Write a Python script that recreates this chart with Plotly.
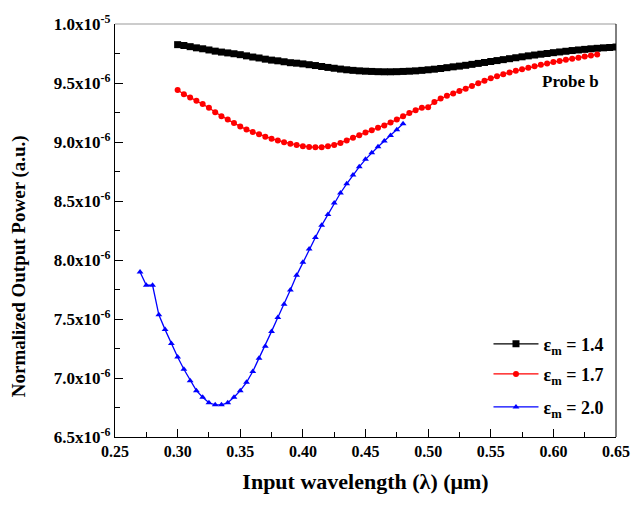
import plotly.graph_objects as go

# wavelengths (µm)
x_14 = [0.300, 0.305, 0.310, 0.315, 0.320, 0.325, 0.330, 0.335, 0.340, 0.345,
        0.350, 0.355, 0.360, 0.365, 0.370, 0.375, 0.380, 0.385, 0.390, 0.395,
        0.400, 0.405, 0.410, 0.415, 0.420, 0.425, 0.430, 0.435, 0.440, 0.445,
        0.450, 0.455, 0.460, 0.465, 0.470, 0.475, 0.480, 0.485, 0.490, 0.495,
        0.500, 0.505, 0.510, 0.515, 0.520, 0.525, 0.530, 0.535, 0.540, 0.545,
        0.550, 0.555, 0.560, 0.565, 0.570, 0.575, 0.580, 0.585, 0.590, 0.595,
        0.600, 0.605, 0.610, 0.615, 0.620, 0.625, 0.630, 0.635, 0.640, 0.645,
        0.650]
# output power, in units of 1e-6
p_14 = [9.825, 9.818, 9.808, 9.798, 9.790, 9.780, 9.770, 9.762, 9.755, 9.748,
        9.740, 9.730, 9.720, 9.712, 9.702, 9.694, 9.688, 9.680, 9.672, 9.668,
        9.662, 9.655, 9.648, 9.640, 9.632, 9.625, 9.618, 9.612, 9.607, 9.603,
        9.600, 9.598, 9.596, 9.595, 9.595, 9.596, 9.598, 9.600, 9.603, 9.607,
        9.612, 9.617, 9.623, 9.630, 9.637, 9.643, 9.650, 9.658, 9.666, 9.674,
        9.682, 9.690, 9.698, 9.706, 9.714, 9.722, 9.730, 9.737, 9.744, 9.750,
        9.757, 9.763, 9.769, 9.775, 9.780, 9.785, 9.790, 9.794, 9.798, 9.801,
        9.805]

x_17 = [0.300, 0.305, 0.310, 0.315, 0.320, 0.325, 0.330, 0.335, 0.340, 0.345,
        0.350, 0.355, 0.360, 0.365, 0.370, 0.375, 0.380, 0.385, 0.390, 0.395,
        0.400, 0.405, 0.410, 0.415, 0.420, 0.425, 0.430, 0.435, 0.440, 0.445,
        0.450, 0.455, 0.460, 0.465, 0.470, 0.475, 0.480, 0.485, 0.490, 0.495,
        0.500, 0.505, 0.510, 0.515, 0.520, 0.525, 0.530, 0.535, 0.540, 0.545,
        0.550, 0.555, 0.560, 0.565, 0.570, 0.575, 0.580, 0.585, 0.590, 0.595,
        0.600, 0.605, 0.610, 0.615, 0.620, 0.625, 0.630, 0.635]
p_17 = [9.440, 9.405, 9.378, 9.350, 9.322, 9.290, 9.252, 9.218, 9.190, 9.160,
        9.132, 9.105, 9.085, 9.065, 9.045, 9.028, 9.012, 8.998, 8.986, 8.975,
        8.965, 8.958, 8.955, 8.956, 8.963, 8.975, 8.992, 9.012, 9.035, 9.058,
        9.080, 9.100, 9.120, 9.140, 9.165, 9.190, 9.218, 9.245, 9.270, 9.290,
        9.295, 9.340, 9.368, 9.392, 9.412, 9.432, 9.452, 9.475, 9.498, 9.520,
        9.540, 9.558, 9.575, 9.590, 9.603, 9.616, 9.629, 9.642, 9.655, 9.666,
        9.677, 9.687, 9.697, 9.706, 9.715, 9.724, 9.733, 9.742]

x_20 = [0.270, 0.275, 0.280, 0.285, 0.290, 0.295, 0.300, 0.305, 0.310, 0.315,
        0.320, 0.325, 0.330, 0.335, 0.340, 0.345, 0.350, 0.355, 0.360, 0.365,
        0.370, 0.375, 0.380, 0.385, 0.390, 0.395, 0.400, 0.405, 0.410, 0.415,
        0.420, 0.425, 0.430, 0.435, 0.440, 0.445, 0.450, 0.455, 0.460, 0.465,
        0.470, 0.475, 0.480]
p_20 = [7.898, 7.786, 7.786, 7.535, 7.410, 7.292, 7.178, 7.074, 6.977, 6.893,
        6.837, 6.790, 6.773, 6.773, 6.790, 6.837, 6.893, 6.963, 7.055, 7.167,
        7.270, 7.395, 7.513, 7.624, 7.745, 7.870, 7.980, 8.093, 8.190, 8.294,
        8.386, 8.484, 8.568, 8.646, 8.721, 8.790, 8.853, 8.909, 8.959, 9.009,
        9.056, 9.104, 9.154]

series_names = ["ε<sub>m</sub> = 1.4", "ε<sub>m</sub> = 1.7", "ε<sub>m</sub> = 2.0"]
x_ticks = [0.25, 0.30, 0.35, 0.40, 0.45, 0.50, 0.55, 0.60, 0.65]
y_tick_vals = [6.5e-6, 7.0e-6, 7.5e-6, 8.0e-6, 8.5e-6, 9.0e-6, 9.5e-6, 1.0e-5]
y_tick_text = ["6.5x10<sup>-6</sup>", "7.0x10<sup>-6</sup>", "7.5x10<sup>-6</sup>",
               "8.0x10<sup>-6</sup>", "8.5x10<sup>-6</sup>", "9.0x10<sup>-6</sup>",
               "9.5x10<sup>-6</sup>", "1.0x10<sup>-5</sup>"]

SCALE = 1e-6
FONT = '"Liberation Serif", "Times New Roman", Times, serif'


def bfont(size):
    return dict(family=FONT, size=size, color="black", weight="bold")


fig = go.Figure()
fig.add_trace(go.Scatter(
    x=x_14, y=[v * SCALE for v in p_14], name=series_names[0], mode="lines+markers",
    line=dict(color="black", width=1.3), legend="legend",
    marker=dict(symbol="square", size=7, color="black")))
fig.add_trace(go.Scatter(
    x=x_17, y=[v * SCALE for v in p_17], name=series_names[1], mode="lines+markers",
    line=dict(color="red", width=1.3), legend="legend2",
    marker=dict(symbol="circle", size=6, color="red")))
fig.add_trace(go.Scatter(
    x=x_20, y=[v * SCALE for v in p_20], name=series_names[2], mode="lines+markers",
    line=dict(color="blue", width=1.3), legend="legend3",
    marker=dict(symbol="triangle-up", size=6, color="blue")))


def leg(ypos):
    return dict(x=0.985, y=ypos, xanchor="right", yanchor="middle",
                font=bfont(18), bgcolor="rgba(0,0,0,0)", itemwidth=45,
                borderwidth=0)


fig.update_layout(
    width=642, height=506,
    margin=dict(l=115, r=19, t=19, b=69),
    paper_bgcolor="white", plot_bgcolor="white",
    font=dict(family=FONT, color="black", weight="bold"),
    showlegend=True,
    legend=leg(0.225),
    legend2=leg(0.152),
    legend3=leg(0.072),
    annotations=[
        dict(text="Probe b", x=0.909, y=0.86, xref="paper", yref="paper",
             xanchor="center", yanchor="middle", showarrow=False, font=bfont(17)),
        dict(text="Normalized Output Power (a.u.)", x=-0.19, y=0.413,
             xref="paper", yref="paper", xanchor="center", yanchor="middle",
             textangle=-90, showarrow=False, font=bfont(19)),
    ],
    shapes=[
        dict(type="line", xref="paper", yref="paper", x0=0, x1=1, y0=1, y1=1,
             line=dict(color="#999999", width=1)),
        dict(type="line", xref="paper", yref="paper", x0=1, x1=1, y0=0, y1=1,
             line=dict(color="black", width=1)),
    ],
)

fig.update_xaxes(
    range=[0.25, 0.65], tickvals=x_ticks, tickformat=".2f",
    showgrid=False, zeroline=False,
    showline=True, linecolor="black", linewidth=1.2,
    ticks="inside", ticklen=8, tickcolor="black",
    minor=dict(ticks="inside", ticklen=5, dtick=0.025, tick0=0.25, tickcolor="black"),
    tickfont=bfont(16),
    title=dict(text="Input wavelength (λ) (μm)", standoff=14, font=bfont(22)),
)
fig.update_yaxes(
    range=[6.5e-6, 1.0e-5], tickvals=y_tick_vals, ticktext=y_tick_text,
    showgrid=False, zeroline=False,
    showline=True, linecolor="black", linewidth=1.2,
    ticks="inside", ticklen=8, tickcolor="black",
    minor=dict(ticks="inside", ticklen=5, dtick=0.25e-6, tick0=6.5e-6, tickcolor="black"),
    tickfont=bfont(17),
)

fig.write_html("out.html")
